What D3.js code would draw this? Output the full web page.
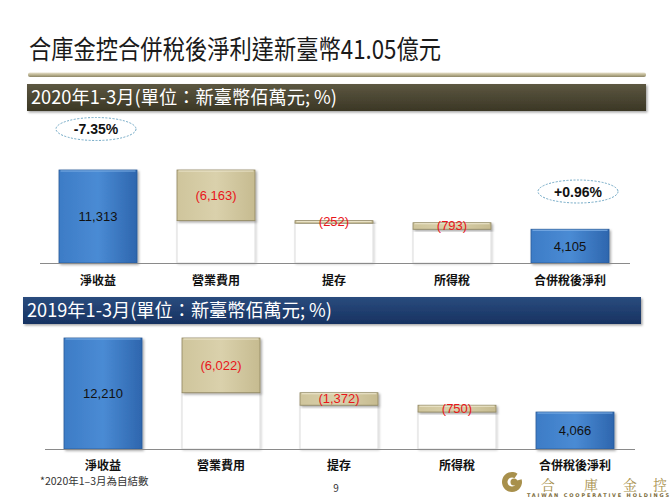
<!DOCTYPE html>
<html><head><meta charset="utf-8">
<script src="https://cdn.jsdelivr.net/npm/d3@7"></script>
<style>
html,body{margin:0;padding:0;background:#fff;}
svg{display:block;}
</style></head>
<body>
<script>
// ---- data ----
const categories = ['淨收益','營業費用','提存','所得稅','合併稅後淨利'];
const values2020 = [11313, -6163, -252, -793, 4105];
const values2019 = [12210, -6022, -1372, -750, 4066];
const valueLabels2020 = ['11,313','(6,163)','(252)','(793)','4,105'];
const valueLabels2019 = ['12,210','(6,022)','(1,372)','(750)','4,066'];
const changeLabels2020 = [{idx:0, text:'-7.35%'},{idx:4, text:'+0.96%'}];
const titleText = '合庫金控合併稅後淨利達新臺幣41.05億元';
const banner2020 = '2020年1-3月(單位：新臺幣佰萬元; %)';
const banner2019 = '2019年1-3月(單位：新臺幣佰萬元; %)';
const footnote = '*2020年1–3月為自結數';
const pageNo = '9';

const W = 672, H = 498;
const CJK = '"Noto Sans CJK TC","Noto Sans CJK SC",sans-serif';
const NUM = '"Liberation Sans Narrow","Liberation Sans",Arial,sans-serif';

const svg = d3.select('body').append('svg').attr('width', W).attr('height', H);
const defs = svg.append('defs');

function lg(id, stops, x2, y2){
  const g = defs.append('linearGradient').attr('id', id)
    .attr('x1',0).attr('y1',0).attr('x2',x2).attr('y2',y2);
  stops.forEach(s=>g.append('stop').attr('offset',s[0]).attr('stop-color',s[1]));
}
lg('blueG', [[0,'#3d7cc6'],[0.5,'#4a8bd4'],[1,'#2e66ae']], 1, 0);
lg('oliveG', [[0,'#cfc59c'],[0.5,'#dad1ac'],[1,'#c6bb90']], 1, 0);
lg('olvBan', [[0,'#5c5741'],[1,'#3b3725']], 0, 1);
lg('bluBan', [[0,'#2a4c7e'],[1,'#173261']], 0, 1);
lg('rule', [[0,'#e6e0cc'],[0.5,'#bdb592'],[1,'#8c8566']], 0, 1);
const f = defs.append('filter').attr('id','sh').attr('x','-10%').attr('y','-10%').attr('width','130%').attr('height','140%');
f.append('feDropShadow').attr('dx',1.5).attr('dy',1.5).attr('stdDeviation',1.2).attr('flood-color','#000').attr('flood-opacity',0.35);
const f2 = defs.append('filter').attr('id','sh2').attr('x','-10%').attr('y','-10%').attr('width','130%').attr('height','140%');
f2.append('feDropShadow').attr('dx',1).attr('dy',1).attr('stdDeviation',1).attr('flood-color','#000').attr('flood-opacity',0.18);

// ---- title ----
svg.append('text').attr('x', 29).attr('y', 59)
  .attr('font-family', CJK).attr('font-size', 26).attr('fill', '#1a1a1a')
  .attr('textLength', 412).attr('lengthAdjust','spacingAndGlyphs')
  .text(titleText);
svg.append('rect').attr('x', 28).attr('y', 72.5).attr('width', 618).attr('height', 4.5)
  .attr('rx', 2).attr('fill', 'url(#rule)');

// ---- banners ----
function banner(y, h, x0, x1, fill, text, tl){
  svg.append('rect').attr('x', x0).attr('y', y).attr('width', x1-x0).attr('height', h)
    .attr('fill', fill).attr('filter','url(#sh)');
  svg.append('text').attr('x', x0+4).attr('y', y + h/2 + 6.5)
    .attr('font-family', CJK).attr('font-size', 18.5).attr('fill', '#fff')
    .attr('textLength', tl).attr('lengthAdjust','spacingAndGlyphs')
    .text(text);
}
banner(84, 27, 27, 646, 'url(#olvBan)', banner2020, 306);
banner(297, 27, 23, 641, 'url(#bluBan)', banner2019, 305);

// ---- waterfall ----
function waterfall(values, labels, range, y0, yTop, labOff){
  const x = d3.scaleBand().domain(categories).range(range)
    .paddingInner(40/118).paddingOuter(20/118);
  const y = d3.scaleLinear().domain([0, values[0]]).range([y0, yTop]);
  const g = svg.append('g');
  let cum = 0;
  const bars = values.map((v,i)=>{
    let b;
    if (i === 0) { b = {cat:categories[i], lo:0, hi:v, type:'total'}; cum = v; }
    else if (i === values.length-1) { b = {cat:categories[i], lo:0, hi:v, type:'total'}; }
    else { b = {cat:categories[i], lo:cum+v, hi:cum, type:'delta'}; cum += v; }
    b.label = labels[i];
    return b;
  });
  // white bases
  g.selectAll('rect.base').data(bars.filter(b=>b.type==='delta')).join('rect')
    .attr('x', d=>x(d.cat)).attr('width', x.bandwidth())
    .attr('y', d=>y(d.lo)).attr('height', d=>y(0)-y(d.lo))
    .attr('fill', '#fff').attr('stroke', '#dcdcdc').attr('stroke-width', 1)
    .attr('filter','url(#sh2)');
  // coloured bars
  g.selectAll('rect.bar').data(bars).join('rect')
    .attr('x', d=>x(d.cat)).attr('width', x.bandwidth())
    .attr('y', d=>y(d.hi)).attr('height', d=>Math.max(2.5, y(d.lo)-y(d.hi)))
    .attr('fill', d=>d.type==='total' ? 'url(#blueG)' : 'url(#oliveG)')
    .attr('stroke', d=>d.type==='total' ? '#2a5a98' : '#8f8660')
    .attr('stroke-width', 0.8)
    .attr('filter','url(#sh)');
  // top highlight
  g.selectAll('line.hl').data(bars).join('line')
    .attr('x1', d=>x(d.cat)+1.5).attr('x2', d=>x(d.cat)+x.bandwidth()-1.5)
    .attr('y1', d=>y(d.hi)+1).attr('y2', d=>y(d.hi)+1)
    .attr('stroke', d=>d.type==='total' ? '#7fb0e6' : '#eee8cf').attr('stroke-width', 1);
  // axis line
  g.append('line').attr('x1', range[0]+1).attr('x2', range[1]+1)
    .attr('y1', y(0)+0.5).attr('y2', y(0)+0.5).attr('stroke', '#8a8a8a').attr('stroke-width', 1.2);
  // values
  g.selectAll('text.val').data(bars).join('text')
    .attr('x', d=>x(d.cat)+x.bandwidth()/2)
    .attr('y', d=>(y(d.lo)+y(d.hi))/2 + 4.5)
    .attr('text-anchor','middle').attr('font-family', NUM).attr('font-size', 13)
    .attr('fill', d=>d.type==='total' ? '#111' : '#e8161b')
    .text(d=>d.label);
  // category labels
  g.selectAll('text.cat').data(categories).join('text')
    .attr('x', d=>x(d)+x.bandwidth()/2).attr('y', y(0)+labOff)
    .attr('text-anchor','middle').attr('font-family', CJK).attr('font-size', 12)
    .attr('font-weight', 700).attr('fill', '#111')
    .text(d=>d);
  return {x, y};
}
const chartTop = waterfall(values2020, valueLabels2020, [39, 629], 263, 170, 22);
const chartBot = waterfall(values2019, valueLabels2019, [44, 634], 449, 338, 21);

// change ellipses (2020)
const ellY = [129, 191.5];
changeLabels2020.forEach((c,k)=>{
  const cx = chartTop.x(categories[c.idx]) + chartTop.x.bandwidth()/2 - (c.idx===0 ? 2 : -8);
  const cy = ellY[k];
  svg.append('ellipse').attr('cx', cx).attr('cy', cy).attr('rx', 40).attr('ry', 11.5)
    .attr('fill', '#fff').attr('stroke', '#6fa7c4').attr('stroke-width', 1)
    .attr('stroke-dasharray', '2,1.5');
  svg.append('text').attr('x', cx).attr('y', cy + 5).attr('text-anchor','middle')
    .attr('font-family', NUM).attr('font-size', 14).attr('font-weight', 700).attr('fill','#111')
    .text(c.text);
});

// footnote & page number
svg.append('text').attr('x', 40).attr('y', 485).attr('font-family', CJK).attr('font-size', 10.5)
  .attr('fill', '#333').text(footnote);
svg.append('text').attr('x', 336).attr('y', 492).attr('text-anchor','middle')
  .attr('font-family', CJK).attr('font-size', 10).attr('fill', '#333').text(pageNo);

// logo
const gold = '#a8904c';
const logo = svg.append('g');
logo.append('path').attr('d', d3.arc()({innerRadius:4.5, outerRadius:10, startAngle:0.5, endAngle:2*Math.PI-0.2}))
  .attr('transform','translate(512,482) rotate(45)').attr('fill', gold);
logo.append('circle').attr('cx', 514).attr('cy', 482).attr('r', 3.5).attr('fill', gold);
['合','庫','金','控'].forEach((ch,i)=>{
  logo.append('text').attr('x', [548,591,630,660][i]).attr('y', 489.5).attr('text-anchor','middle')
    .attr('font-family','"Noto Serif CJK TC","Noto Sans CJK TC",serif').attr('font-size', 14)
    .attr('fill', gold).text(ch);
});
logo.append('text').attr('x', 527).attr('y', 497).attr('font-family','"DejaVu Sans",sans-serif')
  .attr('font-size', 5).attr('font-weight',700).attr('fill', '#7d6c3a')
  .attr('textLength', 142).attr('lengthAdjust','spacing')
  .text('TAIWAN  COOPERATIVE  HOLDINGS');
</script>
</body></html>
